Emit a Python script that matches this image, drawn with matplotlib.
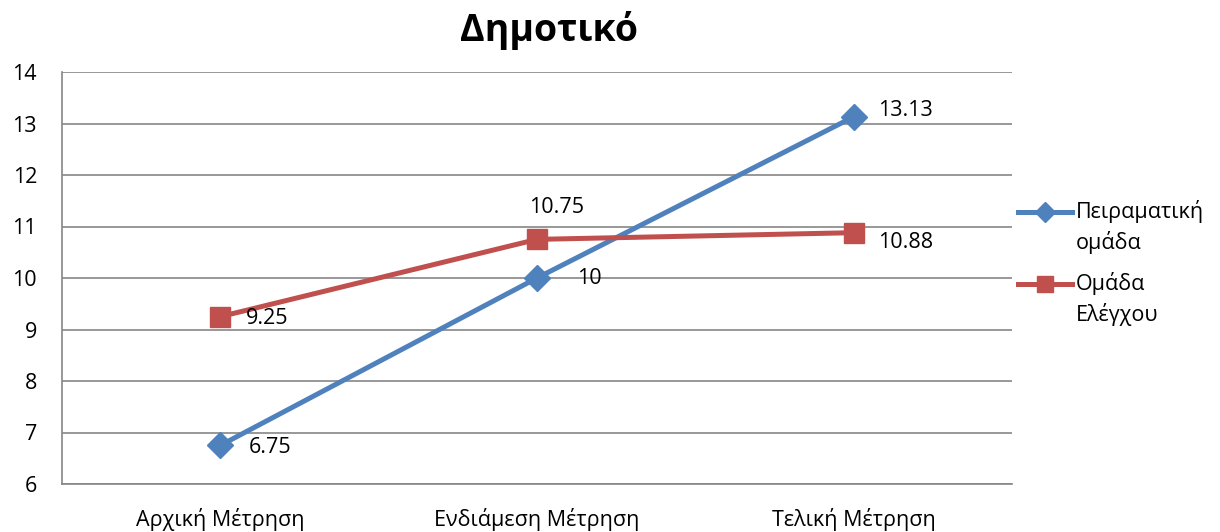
import matplotlib
matplotlib.use("Agg")
import matplotlib.pyplot as plt
from matplotlib.lines import Line2D

plt.rcParams['font.family'] = ['Open Sans', 'DejaVu Sans']

categories = ["Αρχική Μέτρηση", "Ενδιάμεση Μέτρηση", "Τελική Μέτρηση"]
series_names = ["Πειραματική\nομάδα", "Ομάδα\nΕλέγχου"]
experimental = [6.75, 10, 13.13]
control = [9.25, 10.75, 10.88]
exp_labels = ["6.75", "10", "13.13"]
ctl_labels = ["9.25", "10.75", "10.88"]
yticks = [6, 7, 8, 9, 10, 11, 12, 13, 14]

W, H = 1220, 532
fig = plt.figure(figsize=(W / 100, H / 100), dpi=100)
ax = fig.add_axes([62 / W, 1 - 484 / H, (1012 - 62) / W, (484 - 72) / H])

blue = "#4F81BD"
red = "#C0504D"
grid = "#868686"
FS = 15.5

x = list(range(len(categories)))
ax.plot(x, experimental, color=blue, lw=3.6, marker="D", ms=13, zorder=3)
ax.plot(x, control, color=red, lw=3.6, marker="s", ms=14, zorder=3)

ax.set_xlim(-0.5, 2.5)
ax.set_ylim(6, 14)
ax.set_yticks(yticks)
ax.set_xticks(x)
ax.set_xticklabels(categories)
ax.tick_params(axis="both", length=0, labelsize=FS, colors="black")
ax.tick_params(axis="y", pad=18)
ax.tick_params(axis="x", pad=17)
ax.yaxis.grid(True, color=grid, lw=1.2)
ax.set_axisbelow(True)
for s in ["top", "right"]:
    ax.spines[s].set_visible(False)
for s in ["left", "bottom"]:
    ax.spines[s].set_color(grid)
    ax.spines[s].set_linewidth(1.2)

# data labels (offsets in pixels)
exp_offsets = [(28, -2), (40, 0), (24, 6)]
ctl_offsets = [(26, -2), (-8, 32), (24, -10)]
for i in x:
    dx, dy = exp_offsets[i]
    ax.annotate(exp_labels[i], (i, experimental[i]), xytext=(dx * 0.72, dy * 0.72),
                textcoords="offset points", ha="left", va="center", fontsize=FS)
    dx, dy = ctl_offsets[i]
    ax.annotate(ctl_labels[i], (i, control[i]), xytext=(dx * 0.72, dy * 0.72),
                textcoords="offset points", ha="left", va="center", fontsize=FS)

fig.text(549 / W, 1 - 30 / H, "Δημοτικό", ha="center", va="center",
         fontsize=27, fontweight="bold")

# legend
leg_items = [(blue, "D", 10, 212, series_names[0]), (red, "s", 12, 284, series_names[1])]
for col, mk, ms, ypix, name in leg_items:
    yf = 1 - ypix / H
    fig.add_artist(Line2D([1018 / W, 1072 / W], [yf, yf], color=col, lw=3.6,
                          transform=fig.transFigure))
    fig.add_artist(Line2D([1045 / W], [yf], color=col, marker=mk, ms=ms,
                          transform=fig.transFigure))
    fig.text(1076 / W, yf + 12 / H, name, ha="left", va="top", fontsize=FS,
             linespacing=1.45)

fig.savefig("out.png", dpi=100)
